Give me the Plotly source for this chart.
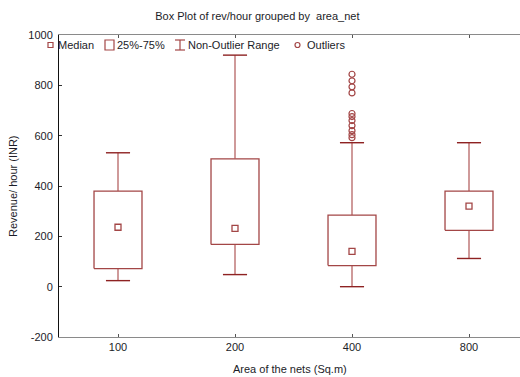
import plotly.graph_objects as go

# ---- data ----
categories = ["100", "200", "400", "800"]
q1 = [72, 168, 84, 224]
median = [236, 232, 140, 320]
q3 = [380, 508, 284, 380]
lower_fence = [24, 48, 0, 112]
upper_fence = [532, 920, 572, 572]
outlier_cat = ["400"] * 11
outlier_val = [844, 818, 794, 770, 688, 676, 660, 640, 620, 604, 592]

y_ticks = [-200, 0, 200, 400, 600, 800, 1000]
y_tick_labels = ["-200", "0", "200", "400", "600", "800", "1000"]

# ---- style ----
W, H = 520, 377
ML, MR, MT, MB = 59, 0, 35, 40
BOX = "#a34646"
CAP = "#8e2222"
WHISK = "#b56464"
FONT = "Liberation Sans, Arial, sans-serif"
TXT = "#1c1c28"
BOX_HALF = 0.205
CAP_HALF = 0.103

pos = {c: i for i, c in enumerate(categories)}

fig = go.Figure()

for i, c in enumerate(categories):
    x0 = pos[c]
    # whiskers
    fig.add_trace(go.Scatter(
        x=[x0, x0, None, x0, x0],
        y=[q3[i], upper_fence[i], None, q1[i], lower_fence[i]],
        mode="lines", line=dict(color=WHISK, width=1.3),
        hoverinfo="skip", showlegend=False))
    # caps
    fig.add_trace(go.Scatter(
        x=[x0 - CAP_HALF, x0 + CAP_HALF, None, x0 - CAP_HALF, x0 + CAP_HALF],
        y=[upper_fence[i], upper_fence[i], None, lower_fence[i], lower_fence[i]],
        mode="lines", line=dict(color=CAP, width=1.4),
        hoverinfo="skip", showlegend=False))
    # box
    fig.add_trace(go.Scatter(
        x=[x0 - BOX_HALF, x0 + BOX_HALF, x0 + BOX_HALF, x0 - BOX_HALF, x0 - BOX_HALF],
        y=[q1[i], q1[i], q3[i], q3[i], q1[i]],
        mode="lines", fill="toself", fillcolor="white",
        line=dict(color=BOX, width=1.3),
        hoverinfo="skip", showlegend=False))

# medians
fig.add_trace(go.Scatter(
    x=[pos[c] for c in categories], y=median, mode="markers",
    marker=dict(symbol="square-open", size=6, color=BOX, line=dict(width=1.3)),
    showlegend=False, name="Median"))

# outliers
fig.add_trace(go.Scatter(
    x=[pos[c] for c in outlier_cat], y=outlier_val, mode="markers",
    marker=dict(symbol="circle-open", size=6, color=BOX, line=dict(width=1.2)),
    showlegend=False, name="Outliers"))

# ---- manual legend (decoration, in pixel -> paper coords) ----
def px(x):
    return (x - ML) / (W - ML - MR)

def py(y):
    return (H - MB - y) / (H - MT - MB)

shapes = []
ly = 45
# median symbol
shapes.append(dict(type="rect", xref="paper", yref="paper",
                   x0=px(48), x1=px(53), y0=py(ly + 2.5), y1=py(ly - 2.5),
                   line=dict(color=BOX, width=1.2), fillcolor="white"))
# 25-75 symbol
shapes.append(dict(type="rect", xref="paper", yref="paper",
                   x0=px(105), x1=px(114), y0=py(ly + 5), y1=py(ly - 5),
                   line=dict(color=BOX, width=1.2), fillcolor="white"))
# I-beam symbol
for (a, b, c_, d) in [(175, ly - 5, 185, ly - 5), (175, ly + 5, 185, ly + 5), (180, ly - 5, 180, ly + 5)]:
    shapes.append(dict(type="line", xref="paper", yref="paper",
                       x0=px(a), y0=py(b), x1=px(c_), y1=py(d),
                       line=dict(color=BOX, width=1.2)))
# outlier circle
shapes.append(dict(type="circle", xref="paper", yref="paper",
                   x0=px(295), x1=px(300), y0=py(ly + 2.5), y1=py(ly - 2.5),
                   line=dict(color=BOX, width=1.2)))

legend_texts = [("Median", 56), ("25%-75%", 115), ("Non-Outlier Range", 186), ("Outliers", 305)]
annotations = []
for t, x in legend_texts:
    annotations.append(dict(text=t, xref="paper", yref="paper", x=px(x), y=py(ly),
                            xanchor="left", yanchor="middle", showarrow=False,
                            font=dict(family=FONT, size=11, color=TXT)))

# axis titles
annotations.append(dict(text="Revenue/ hour (INR)", xref="paper", yref="paper",
                        x=px(13), y=0.5, textangle=-90, xanchor="center", yanchor="middle",
                        showarrow=False, font=dict(family=FONT, size=11, color=TXT)))
annotations.append(dict(text="Area of the nets (Sq.m)", xref="paper", yref="paper",
                        x=0.5, y=py(369), xanchor="center", yanchor="middle",
                        showarrow=False, font=dict(family=FONT, size=11, color=TXT)))

x_left = -(118 - ML) / 117.0
x_right = x_left + (W - ML - MR) / 117.0

fig.update_layout(
    width=W, height=H,
    margin=dict(l=ML, r=MR, t=MT, b=MB),
    paper_bgcolor="white", plot_bgcolor="white",
    font=dict(family=FONT, size=11, color=TXT),
    title=dict(text="Box Plot of rev/hour grouped by  area_net",
               xref="container", x=0.495, yref="container", y=1 - 16 / H,
               xanchor="center", yanchor="middle",
               font=dict(family=FONT, size=11, color=TXT)),
    shapes=shapes, annotations=annotations,
    showlegend=False,
    xaxis=dict(range=[x_left, x_right], tickmode="array",
               tickvals=[pos[c] for c in categories], ticktext=categories,
               showgrid=False, zeroline=False, showline=True, linecolor="#8a8a8a",
               linewidth=1, mirror="ticks", ticks="inside", ticklen=3,
               tickcolor="#555", fixedrange=True),
    yaxis=dict(range=[-200, 1000], tickmode="array", tickvals=y_ticks,
               ticktext=y_tick_labels,
               showgrid=False, zeroline=False, showline=True, linecolor="#111",
               linewidth=1, ticks="inside", ticklen=3, tickcolor="#333",
               ticklabelstandoff=3, fixedrange=True),
)

fig.write_html("out.html", config={"displayModeBar": False},
               post_script="document.body.style.margin='0';document.body.style.overflow='hidden';")
